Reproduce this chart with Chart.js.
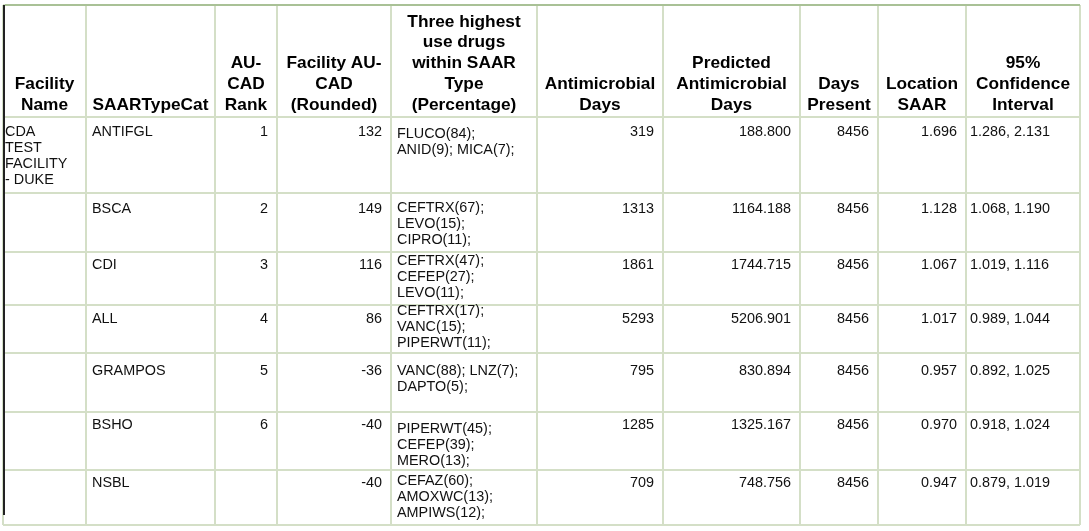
<!DOCTYPE html>
<html><head><meta charset="utf-8">
<script src="https://cdn.jsdelivr.net/npm/chart.js@4.4.1/dist/chart.umd.min.js"></script>
<style>html,body{margin:0;padding:0;background:#fff}canvas{display:block}</style>
</head><body>
<canvas id="c" width="1089" height="531"></canvas>
<script>
// ---- data ----
const headers = [
  ["Facility","Name"],
  ["SAARTypeCat"],
  ["AU-","CAD","Rank"],
  ["Facility AU-","CAD","(Rounded)"],
  ["Three highest","use drugs","within SAAR","Type","(Percentage)"],
  ["Antimicrobial","Days"],
  ["Predicted","Antimicrobial","Days"],
  ["Days","Present"],
  ["Location","SAAR"],
  ["95%","Confidence","Interval"]
];
const facilityNames = ["CDA\nTEST\nFACILITY\n- DUKE","","","","","",""];
const saarTypeCats = ["ANTIFGL","BSCA","CDI","ALL","GRAMPOS","BSHO","NSBL"];
const auCadRanks = [1,2,3,4,5,6,null];
const auCadRounded = [132,149,116,86,-36,-40,-40];
const topDrugs = [
  "FLUCO(84);\nANID(9); MICA(7);",
  "CEFTRX(67);\nLEVO(15);\nCIPRO(11);",
  "CEFTRX(47);\nCEFEP(27);\nLEVO(11);",
  "CEFTRX(17);\nVANC(15);\nPIPERWT(11);",
  "VANC(88); LNZ(7);\nDAPTO(5);",
  "PIPERWT(45);\nCEFEP(39);\nMERO(13);",
  "CEFAZ(60);\nAMOXWC(13);\nAMPIWS(12);"
];
const antimicrobialDays = [319,1313,1861,5293,795,1285,709];
const predictedDays = [188.800,1164.188,1744.715,5206.901,830.894,1325.167,748.756];
const daysPresent = [8456,8456,8456,8456,8456,8456,8456];
const locationSaar = [1.696,1.128,1.067,1.017,0.957,0.970,0.947];
const ciLower = [1.286,1.068,1.019,0.989,0.892,0.918,0.879];
const ciUpper = [2.131,1.190,1.116,1.044,1.025,1.024,1.019];

// ---- layout / style ----
const colWidths = [83,129,62,114,146,126,137,78,88,114];
const headerHeight = 112;
const rowHeights = [76,59,53,48,59,58,55];
const colAlign = ['left','left','right','right','left','right','right','right','right','left'];
const leftPad = [2,6,6,6,6,6,6,6,6,4];
const rightPad = 9;
const rowCapTop = [9,10,7,8,12,7,7];
const drugCapTop = [11,9,3,0,12,11,5];
const FONT = '"Liberation Sans", Arial, sans-serif';

const columns = [
  facilityNames,
  saarTypeCats,
  auCadRanks.map(v => v == null ? "" : String(v)),
  auCadRounded.map(String),
  topDrugs,
  antimicrobialDays.map(String),
  predictedDays.map(v => v.toFixed(3)),
  daysPresent.map(String),
  locationSaar.map(v => v.toFixed(3)),
  ciLower.map((v,i) => v.toFixed(3) + ", " + ciUpper[i].toFixed(3))
];

const xEdges = [0]; colWidths.forEach(w => xEdges.push(xEdges[xEdges.length-1] + w));
const yEdges = [0, headerHeight]; rowHeights.forEach(h => yEdges.push(yEdges[yEdges.length-1] + h));

const tablePlugin = {
  id: 'tableText',
  afterDraw(chart) {
    const ctx = chart.ctx, xs = chart.scales.x, ys = chart.scales.y, ca = chart.chartArea;
    ctx.save();
    // outer borders
    ctx.strokeStyle = '#a9c196'; ctx.lineWidth = 2;
    ctx.beginPath(); ctx.moveTo(xs.getPixelForValue(0) + 2, ca.top); ctx.lineTo(xs.getPixelForValue(xEdges.at(-1)), ca.top); ctx.stroke();
    ctx.strokeStyle = '#222'; ctx.lineWidth = 2;
    ctx.beginPath(); ctx.moveTo(ca.left + 1, ys.getPixelForValue(0)); ctx.lineTo(ca.left + 1, ys.getPixelForValue(yEdges.at(-1)) - 10); ctx.stroke();

    // headers
    ctx.fillStyle = '#000';
    ctx.font = 'bold 17.3px ' + FONT;
    ctx.textBaseline = 'alphabetic';
    ctx.textAlign = 'center';
    const hb = ys.getPixelForValue(headerHeight) - 7.5;
    headers.forEach((lines, c) => {
      const cx = (xs.getPixelForValue(xEdges[c]) + xs.getPixelForValue(xEdges[c+1])) / 2;
      lines.forEach((t, i) => ctx.fillText(t, cx, hb - (lines.length - 1 - i) * 20.7));
    });

    // body
    ctx.fillStyle = '#111';
    ctx.font = '14.4px ' + FONT;
    columns.forEach((col, c) => {
      const l = xs.getPixelForValue(xEdges[c]), r = xs.getPixelForValue(xEdges[c+1]);
      col.forEach((val, rI) => {
        if (!val) return;
        const top = ys.getPixelForValue(yEdges[rI+1]);
        const cap = c === 4 ? drugCapTop[rI] : rowCapTop[rI];
        const base = top + cap + 10.4;
        const lines = String(val).split('\n');
        ctx.textAlign = colAlign[c];
        const x = colAlign[c] === 'left' ? l + leftPad[c] : r - rightPad;
        lines.forEach((t, i) => ctx.fillText(t, x, base + i * 15.7));
      });
    });
    ctx.restore();
  }
};

const gridColor = '#d4dfc7';
new Chart(document.getElementById('c').getContext('2d'), {
  type: 'scatter',
  data: { datasets: [{ data: [], pointRadius: 0 }] },
  options: {
    responsive: false,
    animation: false,
    layout: { padding: { left: 3, top: 5, right: 9, bottom: 6 } },
    plugins: { legend: { display: false }, tooltip: { enabled: false } },
    scales: {
      x: {
        type: 'linear', position: 'top', min: 0, max: xEdges.at(-1),
        afterBuildTicks: s => { s.ticks = xEdges.map(v => ({ value: v })); },
        ticks: { display: false },
        grid: { color: gridColor, lineWidth: 2, drawTicks: false },
        border: { display: false }
      },
      y: {
        type: 'linear', reverse: true, min: 0, max: yEdges.at(-1),
        afterBuildTicks: s => { s.ticks = yEdges.map(v => ({ value: v })); },
        ticks: { display: false },
        grid: { color: gridColor, lineWidth: 2, drawTicks: false },
        border: { display: false }
      }
    }
  },
  plugins: [tablePlugin]
});
</script>
</body></html>
